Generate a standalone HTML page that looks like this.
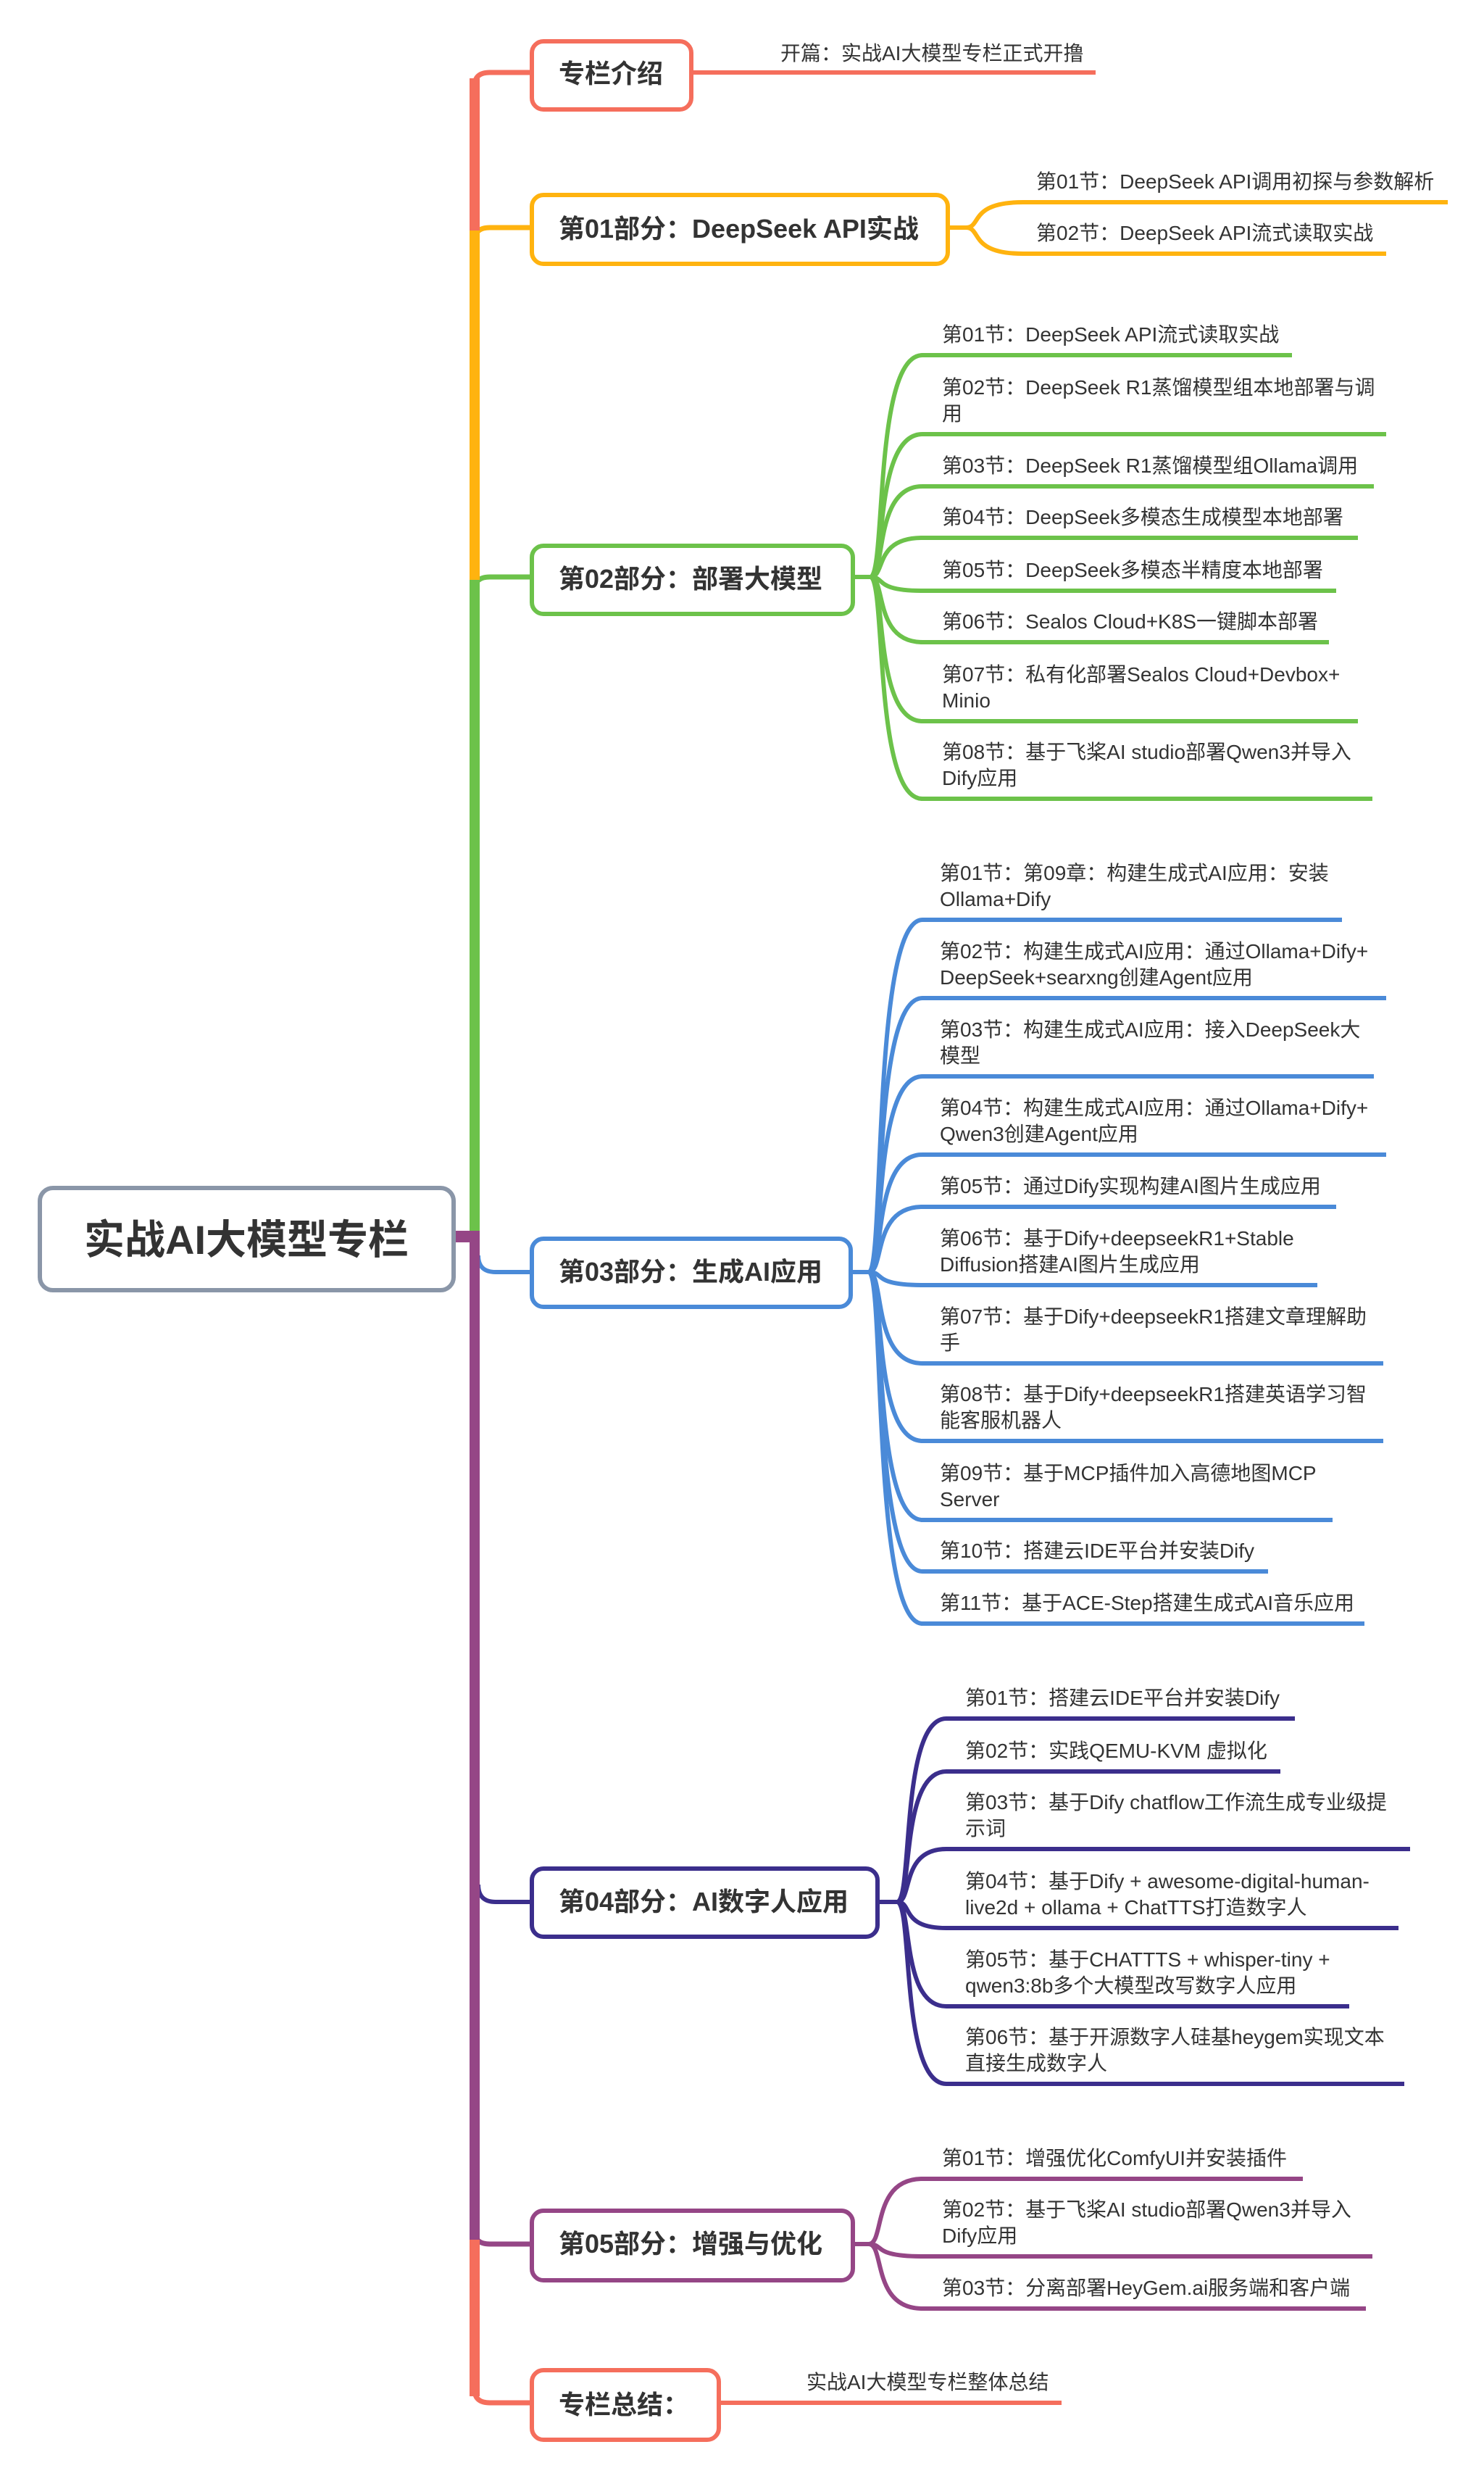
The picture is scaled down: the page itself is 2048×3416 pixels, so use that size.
<!DOCTYPE html>
<html><head><meta charset="utf-8"><style>
html,body{margin:0;padding:0;background:#fff;}
svg{display:block;}
text{font-family:"Liberation Sans","Noto Sans CJK SC",sans-serif;fill:#333;}
.n{font-size:36px;font-weight:bold;}
.c{font-size:28px;}
</style></head><body>
<svg width="2048" height="3416" viewBox="0 0 2048 3416" xmlns="http://www.w3.org/2000/svg">
<g fill="none" stroke-linecap="butt">
<!-- thin stubs with rounded corners -->
<path d="M655 118 Q655 100 676 100 H735" stroke="#F56E5C" stroke-width="7"/>
<path d="M655 332 Q655 314 676 314 H735" stroke="#FFB30F" stroke-width="7"/>
<path d="M655 814 Q655 796 676 796 H735" stroke="#6CC24A" stroke-width="7"/>
<path d="M660 1732 Q660 1755 684 1755 H735" stroke="#4A8AD8" stroke-width="6"/>
<path d="M660 2600 Q660 2624 684 2624 H735" stroke="#3B2E8C" stroke-width="6"/>
<path d="M655 3078 Q655 3096 676 3096 H735" stroke="#954686" stroke-width="7"/>
<path d="M655 3297 Q655 3315 676 3315 H735" stroke="#F56E5C" stroke-width="7"/>
<!-- trunk verticals (thick) -->
<path d="M655 108 V318" stroke="#F56E5C" stroke-width="14"/>
<path d="M655 318 V800" stroke="#FFB30F" stroke-width="14"/>
<path d="M655 800 V1700" stroke="#6CC24A" stroke-width="14"/>
<path d="M655 3090 V3306" stroke="#F56E5C" stroke-width="14"/>
<path d="M655 1698 V3090" stroke="#954686" stroke-width="14"/>
<path d="M629 1706 H662" stroke="#954686" stroke-width="16"/>
<!-- node1 / summary leaf lines -->
<path d="M956 100 H1512" stroke="#F56E5C" stroke-width="6"/>
<path d="M993 3315 H1465" stroke="#F56E5C" stroke-width="6"/>
</g>
<g id="branches" fill="none" stroke-width="6"></g>
<!-- root -->
<rect x="55" y="1639" width="571" height="141" rx="18" fill="#fff" stroke="#8A96A8" stroke-width="6"/>
<text x="340" y="1730" text-anchor="middle" style="font-size:56px;font-weight:bold;">实战AI大模型专栏</text>
<!-- nodes -->
<rect x="734" y="57" width="220" height="94" rx="16" fill="#fff" stroke="#F56E5C" stroke-width="6"/>
<text class="n" x="771" y="114">专栏介绍</text>
<text class="c" x="1077" y="83">开篇：实战AI大模型专栏正式开撸</text>
<rect x="734" y="269" width="574" height="95" rx="16" fill="#fff" stroke="#FFB30F" stroke-width="6"/>
<text class="n" x="771" y="328">第01部分：DeepSeek API实战</text>
<rect x="734" y="753" width="443" height="94" rx="16" fill="#fff" stroke="#6CC24A" stroke-width="6"/>
<text class="n" x="771" y="811">第02部分：部署大模型</text>
<rect x="734" y="1709" width="440" height="94" rx="16" fill="#fff" stroke="#4A8AD8" stroke-width="6"/>
<text class="n" x="771" y="1767">第03部分：生成AI应用</text>
<rect x="734" y="2578" width="477" height="94" rx="16" fill="#fff" stroke="#3B2E8C" stroke-width="6"/>
<text class="n" x="771" y="2636">第04部分：AI数字人应用</text>
<rect x="734" y="3050" width="443" height="96" rx="16" fill="#fff" stroke="#954686" stroke-width="6"/>
<text class="n" x="771" y="3108">第05部分：增强与优化</text>
<rect x="734" y="3270" width="258" height="96" rx="16" fill="#fff" stroke="#F56E5C" stroke-width="6"/>
<text class="n" x="771" y="3330">专栏总结：</text>
<text class="c" x="1113" y="3296">实战AI大模型专栏整体总结</text>
<g id="leafText"></g>
</svg>
<script>
var groups=[
 {col:"#FFB30F",bx:1308,sx:1333,sy:314,ux:1412,tx:1430,items:[
  [279,1998,["第01节：DeepSeek API调用初探与参数解析"]],
  [350,1913,["第02节：DeepSeek API流式读取实战"]]]},
 {col:"#6CC24A",bx:1177,sx:1201,sy:796,ux:1273,tx:1300,items:[
  [490,1783,["第01节：DeepSeek API流式读取实战"]],
  [599,1913,["第02节：DeepSeek R1蒸馏模型组本地部署与调","用"]],
  [671,1896,["第03节：DeepSeek R1蒸馏模型组Ollama调用"]],
  [742,1874,["第04节：DeepSeek多模态生成模型本地部署"]],
  [815,1844,["第05节：DeepSeek多模态半精度本地部署"]],
  [886,1834,["第06节：Sealos Cloud+K8S一键脚本部署"]],
  [995,1874,["第07节：私有化部署Sealos Cloud+Devbox+","Minio"]],
  [1102,1894,["第08节：基于飞桨AI studio部署Qwen3并导入","Dify应用"]]]},
 {col:"#4A8AD8",bx:1174,sx:1199,sy:1755,ux:1273,tx:1297,items:[
  [1269,1852,["第01节：第09章：构建生成式AI应用：安装","Ollama+Dify"]],
  [1377,1913,["第02节：构建生成式AI应用：通过Ollama+Dify+","DeepSeek+searxng创建Agent应用"]],
  [1485,1896,["第03节：构建生成式AI应用：接入DeepSeek大","模型"]],
  [1593,1913,["第04节：构建生成式AI应用：通过Ollama+Dify+","Qwen3创建Agent应用"]],
  [1665,1844,["第05节：通过Dify实现构建AI图片生成应用"]],
  [1773,1818,["第06节：基于Dify+deepseekR1+Stable","Diffusion搭建AI图片生成应用"]],
  [1881,1909,["第07节：基于Dify+deepseekR1搭建文章理解助","手"]],
  [1988,1909,["第08节：基于Dify+deepseekR1搭建英语学习智","能客服机器人"]],
  [2097,1839,["第09节：基于MCP插件加入高德地图MCP","Server"]],
  [2168,1750,["第10节：搭建云IDE平台并安装Dify"]],
  [2240,1883,["第11节：基于ACE-Step搭建生成式AI音乐应用"]]]},
 {col:"#3B2E8C",bx:1211,sx:1238,sy:2624,ux:1306,tx:1332,items:[
  [2371,1787,["第01节：搭建云IDE平台并安装Dify"]],
  [2444,1767,["第02节：实践QEMU-KVM 虚拟化"]],
  [2551,1946,["第03节：基于Dify chatflow工作流生成专业级提","示词"]],
  [2660,1930,["第04节：基于Dify + awesome-digital-human-","live2d + ollama + ChatTTS打造数字人"]],
  [2768,1862,["第05节：基于CHATTTS + whisper-tiny +","qwen3:8b多个大模型改写数字人应用"]],
  [2875,1938,["第06节：基于开源数字人硅基heygem实现文本","直接生成数字人"]]]},
 {col:"#954686",bx:1177,sx:1199,sy:3096,ux:1273,tx:1300,items:[
  [3006,1798,["第01节：增强优化ComfyUI并安装插件"]],
  [3113,1894,["第02节：基于飞桨AI studio部署Qwen3并导入","Dify应用"]],
  [3185,1885,["第03节：分离部署HeyGem.ai服务端和客户端"]]]}
];
var NS="http://www.w3.org/2000/svg",b=document.getElementById("branches"),t=document.getElementById("leafText");
groups.forEach(function(g){
 var p=document.createElementNS(NS,"path");
 p.setAttribute("d","M"+g.bx+" "+g.sy+" H"+g.sx);p.setAttribute("stroke",g.col);b.appendChild(p);
 g.items.forEach(function(it){
  var uy=it[0],ex=it[1],lines=it[2];
  var q=document.createElementNS(NS,"path");
  var d="M"+g.sx+" "+g.sy+" C"+(g.sx+22)+" "+g.sy+" "+(g.sx+4)+" "+uy+" "+g.ux+" "+uy+" H"+ex;
  q.setAttribute("d",d);q.setAttribute("stroke",g.col);b.appendChild(q);
  var n=lines.length;
  lines.forEach(function(s,i){
   var x=document.createElementNS(NS,"text");
   x.setAttribute("class","c");x.setAttribute("x",g.tx);
   x.setAttribute("y",uy-19-(n-1-i)*36);x.textContent=s;t.appendChild(x);
  });
 });
});
</script>
</body></html>
